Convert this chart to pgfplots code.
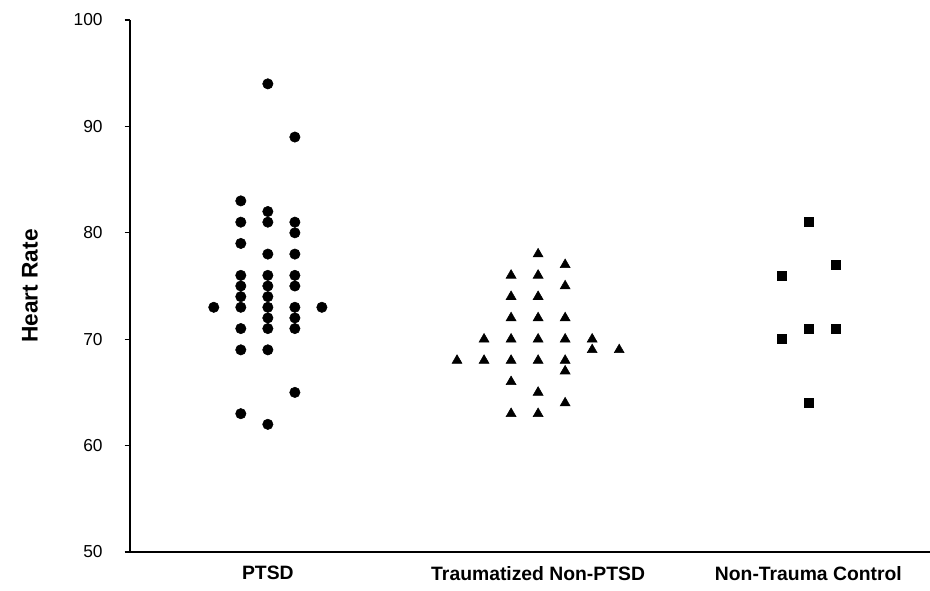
\documentclass[border=0pt]{standalone}
\usepackage{pgfplots}
\pgfplotsset{compat=1.18}
\usepackage{fontspec}
\setmainfont{Liberation Sans}
\setsansfont{Liberation Sans}

\begin{document}
\begin{tikzpicture}
\begin{axis}[
    scale only axis,
    width=600pt, height=399pt,
    xmin=0.49, xmax=3.45,
    ymin=50, ymax=100,
    axis lines*=left,
    axis line style={line width=2pt, black},
    xtick={1,2,3},
    xticklabels={PTSD, Traumatized Non-PTSD, Non-Trauma Control},
    xtick style={draw=none},
    xticklabel style={font=\fontsize{14.5}{16}\selectfont\bfseries, yshift=-3pt},
    ytick={50,60,70,80,90,100},
    ytick style={line width=1pt, black},
    major tick length=4pt,
    tick align=outside,
    yticklabel style={font=\fontsize{13}{15}\selectfont, xshift=-13pt},
    /pgf/number format/assume math mode=true,
    ylabel={Heart Rate},
    ylabel style={font=\fontsize{17}{19}\selectfont\bfseries,
        at={(axis description cs:-0.125,0.5)}, anchor=center},
    clip=false,
]
% PTSD
\addplot[only marks, mark=*, mark size=3.9pt, black] coordinates {
    (0.8,73)
    (0.9,83) (0.9,81) (0.9,79) (0.9,76) (0.9,75) (0.9,74) (0.9,73) (0.9,71) (0.9,69) (0.9,63)
    (1.0,94) (1.0,82) (1.0,81) (1.0,78) (1.0,76) (1.0,75) (1.0,74) (1.0,73) (1.0,72) (1.0,71) (1.0,69) (1.0,62)
    (1.1,89) (1.1,81) (1.1,80) (1.1,78) (1.1,76) (1.1,75) (1.1,73) (1.1,72) (1.1,71) (1.1,65)
    (1.2,73)
};
% Traumatized Non-PTSD
\addplot[only marks, mark=triangle*, mark size=4.3pt, black] coordinates {
    (1.7,68)
    (1.8,70) (1.8,68)
    (1.9,76) (1.9,74) (1.9,72) (1.9,70) (1.9,68) (1.9,66) (1.9,63)
    (2.0,78) (2.0,76) (2.0,74) (2.0,72) (2.0,70) (2.0,68) (2.0,65) (2.0,63)
    (2.1,77) (2.1,75) (2.1,72) (2.1,70) (2.1,68) (2.1,67) (2.1,64)
    (2.2,70) (2.2,69)
    (2.3,69)
};
% Non-Trauma Control
\addplot[only marks, mark=square*, mark size=3.4pt, black] coordinates {
    (2.9,76) (2.9,70)
    (3.0,81) (3.0,71) (3.0,64)
    (3.1,77) (3.1,71)
};
\end{axis}
\pgfresetboundingbox
\path[use as bounding box] (-97.5pt,-28.5pt) rectangle (600pt,414pt);
\end{tikzpicture}
\end{document}
